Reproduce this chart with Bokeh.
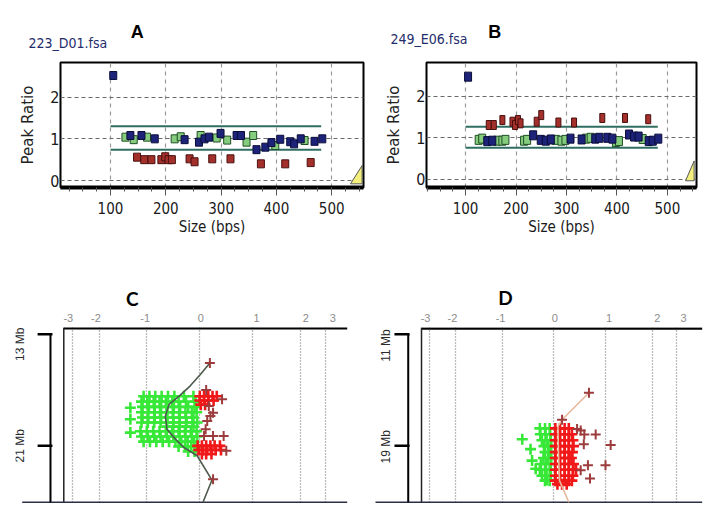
import math
from bokeh.plotting import figure
from bokeh.layouts import column, row
from bokeh.models import Range1d, FixedTicker, SingleIntervalTicker
from bokeh.core.properties import value
from bokeh.embed import file_html
from bokeh.resources import INLINE

# ---------------- Panel A (223_D01.fsa) ----------------
A_GREEN_X = [127, 142, 166, 216, 227, 263, 292, 311, 335, 346, 358, 398, 451]
A_GREEN_Y = [1.04, 0.98, 1.04, 1.00, 1.05, 1.08, 1.02, 0.97, 1.08, 0.92, 1.08, 0.84, 0.96]
A_BLUE_X = [105, 136, 156, 180, 234, 260, 270, 278, 299, 328, 336, 364, 380, 391, 407, 425, 432, 444, 469, 483]
A_BLUE_Y = [2.52, 1.08, 1.08, 1.00, 0.98, 0.92, 1.00, 1.04, 1.13, 1.08, 1.08, 0.74, 0.80, 0.91, 0.99, 0.93, 0.88, 1.00, 0.94, 1.00]
A_RED_X = [148, 161, 174, 192, 199, 205, 211, 243, 252, 284, 317, 372, 416, 462]
A_RED_Y = [0.56, 0.50, 0.50, 0.50, 0.57, 0.50, 0.50, 0.52, 0.45, 0.52, 0.52, 0.40, 0.40, 0.43]
A_BAND = [0.74, 1.30]
A_TRI_X = [534, 555, 555]
A_TRI_Y = [-0.08, 0.36, -0.08]

# ---------------- Panel B (249_E06.fsa) ----------------
B_GREEN_X = [126, 133, 163, 173, 179, 216, 222, 279, 290, 298, 339, 348, 398, 404, 451]
B_GREEN_Y = [0.95, 0.98, 0.93, 0.93, 0.95, 0.93, 0.95, 0.95, 0.93, 0.95, 0.98, 1.00, 0.90, 0.92, 0.97]
B_BLUE_X = [105, 143, 153, 234, 249, 259, 269, 308, 330, 357, 365, 381, 391, 424, 434, 443, 463, 471, 482]
B_BLUE_Y = [2.48, 0.92, 0.93, 1.06, 0.95, 0.93, 0.96, 0.98, 0.96, 0.98, 1.00, 1.00, 0.98, 1.08, 1.03, 1.03, 0.92, 0.93, 0.98]
B_RED_X = [146, 156, 173, 193, 198, 204, 209, 241, 250, 284, 315, 371, 416, 462]
B_RED_Y = [1.31, 1.31, 1.43, 1.39, 1.31, 1.43, 1.35, 1.39, 1.55, 1.37, 1.37, 1.48, 1.48, 1.45]
B_BAND = [0.76, 1.27]
B_TRI_X = [536, 553, 553]
B_TRI_Y = [-0.04, 0.44, -0.04]

BAND_X = [100, 481]
RATIO_TICKS = [0, 1, 2]

# ---------------- Panel titles (page pixel positions) ----------------
TOP_TEXT = ["223_D01.fsa", "249_E06.fsa"]
TOP_TEXT_X = [28, 390]
TOP_TEXT_Y = [42.7, 38.3]
TOP_LETTERS = ["A", "B"]
TOP_LETTER_X = [136.7, 494.3]
TOP_LETTER_Y = [31.7, 31.7]
BOTTOM_LETTERS = ["C", "D"]
BOTTOM_LETTER_X = [131.7, 505.0]
BOTTOM_LETTER_Y = [297.5, 296.5]

# ---------------- Panels C / D (log ratio vs genome position) ----------------
RATIO_LABELS = ["-3", "-2", "-1", "0", "1", "2", "3"]
RATIO_LABEL_POS = [-2.48, -1.96, -1.03, 0.02, 1.07, 2.0, 2.51]
RATIO_GRID_POS = [-2.4, -1.9, -1.0, 0.0, 1.0, 1.9, 2.38]

C_MB_TICKS = [13, 21]
C_MB_LABELS = ["13 Mb", "21 Mb"]
D_MB_TICKS = [11, 19]
D_MB_LABELS = ["11 Mb", "19 Mb"]

C_GREEN_ROWS = [
    (17.45, [-1.06, -0.95, -0.84, -0.72, -0.60, -0.48, -0.30, -0.12]),
    (17.83, [-1.10, -0.99, -0.87, -0.76, -0.64, -0.52, -0.40, -0.26, -0.08]),
    (18.21, [-1.08, -0.96, -0.85, -0.73, -0.61, -0.49, -0.37, -0.22, -0.10]),
    (18.59, [-1.10, -0.98, -0.86, -0.75, -0.63, -0.51, -0.39, -0.27, -0.15, -0.06]),
    (18.97, [-1.08, -0.97, -0.85, -0.73, -0.61, -0.50, -0.38, -0.26, -0.12]),
    (19.33, [-1.10, -0.98, -0.86, -0.74, -0.62, -0.50, -0.38, -0.25, -0.14, -0.05]),
    (19.62, [-0.62, -0.50, -0.38, -0.26, -0.12]),
    (19.95, [-1.12, -1.00, -0.88, -0.76, -0.64, -0.52, -0.40, -0.28, -0.17, -0.06]),
    (20.33, [-1.10, -0.98, -0.86, -0.74, -0.62, -0.50, -0.38, -0.27, -0.15, -0.05]),
    (20.70, [-1.06, -0.94, -0.82, -0.70, -0.58, -0.46, -0.35, -0.23, -0.11]),
    (21.05, [-0.40, -0.28, -0.16, -0.06]),
    (21.40, [-0.22, -0.10]),
]
C_GREEN_OUT_X = [-1.31, -1.31, -1.31]
C_GREEN_OUT_Y = [18.27, 19.10, 20.05]
C_RED_ROWS = [
    (17.45, [0.00, 0.08, 0.16, 0.24, 0.32]),
    (17.75, [0.00, 0.08, 0.16, 0.26]),
    (18.05, [0.02, 0.10]),
    (21.00, [-0.04, 0.04, 0.12, 0.20, 0.28, 0.38]),
    (21.30, [-0.02, 0.06, 0.14, 0.22, 0.30, 0.40]),
    (21.58, [0.04, 0.12, 0.22]),
]
C_DARK_X = [0.19, 0.12, 0.42, 0.17, 0.25, 0.20, 0.14, 0.11, 0.08, 0.25, 0.45, 0.50, 0.25]
C_DARK_Y = [15.07, 17.00, 17.67, 18.15, 18.63, 18.86, 19.22, 19.81, 20.29, 20.29, 20.29, 21.35, 23.40]
C_LINE_X = [0.19, 0.01, -0.18, -0.39, -0.58, -0.65, -0.62, -0.46, -0.30, -0.05, 0.23, 0.06]
C_LINE_Y = [15.07, 15.89, 16.70, 17.44, 18.03, 18.86, 19.81, 20.52, 21.12, 21.71, 23.45, 25.04]

D_GREEN_ROWS = [
    (17.75, [-0.27, -0.17, -0.08]),
    (18.17, [-0.26, -0.16, -0.07]),
    (18.60, [-0.23, -0.14, -0.06]),
    (19.02, [-0.19, -0.11, -0.05]),
    (19.45, [-0.17, -0.09]),
    (19.87, [-0.20, -0.11, -0.05]),
    (20.30, [-0.25, -0.15, -0.06]),
    (20.72, [-0.27, -0.17, -0.08]),
    (21.15, [-0.23, -0.14, -0.06]),
    (21.50, [-0.17, -0.08]),
]
D_GREEN_OUT_X = [-0.61, -0.45, -0.42, -0.35, -0.13]
D_GREEN_OUT_Y = [18.53, 19.24, 20.06, 20.65, 21.46]
D_RED_ROWS = [
    (17.75, [0.03, 0.12, 0.21, 0.29]),
    (18.17, [0.03, 0.12, 0.21, 0.29, 0.35]),
    (18.60, [0.03, 0.12, 0.21, 0.29, 0.37]),
    (19.02, [0.03, 0.12, 0.21, 0.29, 0.38]),
    (19.45, [0.03, 0.12, 0.21, 0.29, 0.36]),
    (19.87, [0.03, 0.12, 0.21, 0.29, 0.34]),
    (20.30, [0.03, 0.12, 0.21, 0.29, 0.38]),
    (20.72, [0.03, 0.12, 0.21, 0.29, 0.37, 0.43]),
    (21.15, [0.03, 0.12, 0.21, 0.29, 0.37]),
    (21.50, [0.03, 0.12, 0.21, 0.29, 0.35]),
    (21.75, [0.07, 0.16, 0.25]),
]
D_DARK_X = [0.68, 0.16, 0.52, 0.81, 0.59, 1.10, 0.58, 1.00, 0.66, 0.70, 0.52, 0.45]
D_DARK_Y = [15.19, 17.13, 17.90, 18.18, 18.18, 18.95, 18.88, 20.40, 20.40, 21.34, 20.75, 17.80]
D_LINE_X = [0.68, 0.16, 0.08, 0.09, 0.11, 0.29]
D_LINE_Y = [15.19, 17.13, 17.60, 19.50, 21.50, 23.05]

NARROW = "DejaVu Sans Condensed, Roboto"
ARIAL = "Liberation Sans"


def flatten(rows):
    xs, ys = [], []
    for mb, row_xs in rows:
        for xv in row_xs:
            xs.append(xv)
            ys.append(mb)
    return xs, ys


def strip(width, height, y_top, letters, lx, ly, texts=None, tx=None, ty=None, letter_font=ARIAL,
          letter_size="18px"):
    p = figure(width=width, height=height, x_range=Range1d(0, width),
               y_range=Range1d(y_top + height, y_top),
               output_backend="svg", toolbar_location=None,
               x_axis_location=None, y_axis_location=None, min_border=0,
               background_fill_color="white", border_fill_color="white")
    p.outline_line_color = None
    p.xgrid.visible = False
    p.ygrid.visible = False
    if texts:
        p.text(x=tx, y=ty, text=texts, text_font=value(NARROW), text_font_size=value("14px"),
               text_color="#1f2d6b", text_align="left", text_baseline="middle")
    p.text(x=lx, y=ly, text=letters, text_font=value(letter_font), text_font_size=value(letter_size),
           text_font_style="bold", text_color="black", text_align="center", text_baseline="middle")
    return p


def peak_panel(width, bl, br, xr, yr, green, blue, red, band, tri, red_size, gb_size):
    p = figure(width=width, height=204, x_range=Range1d(*xr), y_range=Range1d(*yr),
               output_backend="svg", toolbar_location=None,
               min_border_left=bl, min_border_right=br, min_border_top=6, min_border_bottom=73,
               background_fill_color="white", border_fill_color="white")
    p.outline_line_color = "black"
    p.outline_line_width = 2
    p.xaxis.ticker = SingleIntervalTicker(interval=100, num_minor_ticks=4)
    p.yaxis.ticker = FixedTicker(ticks=RATIO_TICKS)
    p.xgrid.grid_line_color = "#9a9a9a"
    p.xgrid.grid_line_dash = "4 4"
    p.xgrid.grid_line_width = 1.2
    p.ygrid.grid_line_color = "#6a6a6a"
    p.ygrid.grid_line_dash = "4 3"
    p.ygrid.grid_line_width = 1.2
    ax = p.xaxis[0]
    ax.axis_line_width = 4
    ax.axis_line_color = "black"
    ax.major_tick_out = 8
    ax.major_tick_in = 0
    ax.minor_tick_out = 4
    ax.minor_tick_in = 0
    ax.major_tick_line_color = "#555555"
    ax.minor_tick_line_color = "#555555"
    ax.major_label_standoff = 6
    ax.major_label_text_font = NARROW
    ax.major_label_text_font_size = "15px"
    ax.major_label_text_color = "#1a1a1a"
    ax.axis_label = "Size (bps)"
    ax.axis_label_text_font = NARROW
    ax.axis_label_text_font_size = "15px"
    ax.axis_label_text_font_style = "normal"
    ax.axis_label_text_color = "#1a1a1a"
    ax.axis_label_standoff = 1
    ay = p.yaxis[0]
    ay.axis_line_color = None
    ay.major_tick_out = 0
    ay.major_tick_in = 0
    ay.minor_tick_line_color = None
    ay.major_label_standoff = 1
    ay.major_label_text_font = NARROW
    ay.major_label_text_font_size = "16px"
    ay.major_label_text_color = "#1a1a1a"
    ay.axis_label = "Peak Ratio"
    ay.axis_label_text_font = "DejaVu Sans"
    ay.axis_label_text_font_size = "15px"
    ay.axis_label_text_font_style = "normal"
    ay.axis_label_text_color = "#222222"
    ay.axis_label_standoff = 10

    for yv in band:
        p.line(x=BAND_X, y=[yv, yv], line_color="#2e6e62", line_width=2)

    p.rect(x=red[0], y=red[1], width=red_size[0], height=red_size[1],
           width_units="screen", height_units="screen",
           fill_color="#a3302b", line_color="#4a1010", line_width=1)
    p.rect(x=green[0], y=green[1], width=gb_size[0], height=gb_size[1],
           width_units="screen", height_units="screen",
           fill_color="#86cc7e", line_color="#1f4f24", line_width=1)
    p.rect(x=blue[0], y=blue[1], width=gb_size[0], height=gb_size[1],
           width_units="screen", height_units="screen",
           fill_color="#1d2379", line_color="#0a0d3a", line_width=1)

    p.patch(x=tri[0], y=tri[1], fill_color="#f4ef7c", line_color="#555555", line_width=1)
    return p


def genome_panel(width, height, bl, br, bt, bb, xr, yr, green_rows, green_out, red_rows,
                 dark, line, line_color, frame, chrom, mb_ticks, mb_labels, mb_label_pos):
    p = figure(width=width, height=height, x_range=Range1d(*xr), y_range=Range1d(*yr),
               output_backend="svg", toolbar_location=None,
               x_axis_location="above", y_axis_location=None,
               min_border_left=bl, min_border_right=br, min_border_top=bt, min_border_bottom=bb,
               background_fill_color="white", border_fill_color="white")
    p.outline_line_color = None
    ax = p.xaxis[0]
    ax.ticker = FixedTicker(ticks=RATIO_LABEL_POS)
    ax.major_label_overrides = {pos: lab for pos, lab in zip(RATIO_LABEL_POS, RATIO_LABELS)}
    ax.axis_line_color = None
    ax.major_tick_line_color = None
    ax.minor_tick_line_color = None
    ax.major_label_standoff = 0
    ax.major_label_text_font = ARIAL
    ax.major_label_text_font_size = "11px"
    ax.major_label_text_color = "#8c8c8c"
    p.xgrid.ticker = FixedTicker(ticks=RATIO_GRID_POS)
    p.xgrid.grid_line_color = "#7a7a7a"
    p.xgrid.grid_line_dash = "1 2"
    p.xgrid.grid_line_width = 1.3
    p.ygrid.visible = False

    # frame lines: top, left, bottom
    x_left, x_right, y_top, y_bottom, x_bottom_start = frame
    p.line(x=[x_left, x_right], y=[y_top, y_top], line_color="black", line_width=2.5)
    p.line(x=[x_left, x_left], y=[yr[1], y_bottom], line_color="#222222", line_width=1.5)
    p.line(x=[x_bottom_start, x_right], y=[y_bottom, y_bottom], line_color="#2b2f45", line_width=1.5)
    # chromosome bar with Mb ticks
    cx, tick_x0, tick_x1 = chrom
    p.line(x=[cx, cx], y=[mb_ticks[0], y_bottom], line_color="black", line_width=2)
    for t in mb_ticks:
        p.line(x=[tick_x0, tick_x1], y=[t, t], line_color="black", line_width=2.5)
    p.text(x=[pos[0] for pos in mb_label_pos], y=[pos[1] for pos in mb_label_pos], text=mb_labels,
           angle=math.pi / 2, text_font=value(ARIAL), text_font_size=value("12px"),
           text_color="#2a2a2a", text_align="center", text_baseline="middle")

    gx, gy = flatten(green_rows)
    gx = gx + green_out[0]
    gy = gy + green_out[1]
    rx, ry = flatten(red_rows)
    p.scatter(x=gx, y=gy, marker="cross", size=11, line_color="#38e838", line_width=2.6)
    p.scatter(x=rx, y=ry, marker="cross", size=11, line_color="#f01818", line_width=2.6)
    p.line(x=line[0], y=line[1], line_color=line_color, line_width=1.6)
    p.scatter(x=dark[0], y=dark[1], marker="cross", size=10, line_color="#9c3c3c", line_width=2)
    return p


top_strip = strip(707, 56, 0, TOP_LETTERS, TOP_LETTER_X, TOP_LETTER_Y,
                  TOP_TEXT, TOP_TEXT_X, TOP_TEXT_Y)
pA = peak_panel(375, 60, 12, (9.6, 557.5), (-0.168, 2.832),
                (A_GREEN_X, A_GREEN_Y), (A_BLUE_X, A_BLUE_Y), (A_RED_X, A_RED_Y),
                A_BAND, (A_TRI_X, A_TRI_Y), (7, 8), (7, 8))
pB = peak_panel(332, 51, 11, (22.6, 557.7), (-0.203, 2.823),
                (B_GREEN_X, B_GREEN_Y), (B_BLUE_X, B_BLUE_Y), (B_RED_X, B_RED_Y),
                B_BAND, (B_TRI_X, B_TRI_Y), (5, 9), (7, 9))
bottom_strip = strip(707, 50, 260, BOTTOM_LETTERS, BOTTOM_LETTER_X, BOTTOM_LETTER_Y,
                     letter_font="Lato", letter_size="19px")
pC = genome_panel(370, 197, 15, 20, 16, 4, (-3.477, 2.843), (25.13, 12.523),
                  C_GREEN_ROWS, (C_GREEN_OUT_X, C_GREEN_OUT_Y), C_RED_ROWS,
                  (C_DARK_X, C_DARK_Y), (C_LINE_X, C_LINE_Y), "#4b5a4b",
                  (-2.566, 2.781, 12.573, 25.04, -3.35), (-2.817, -3.06, -2.78),
                  C_MB_TICKS, C_MB_LABELS, [(-3.383, 13.73), (-3.383, 21.0)])
pD = genome_panel(337, 197, 2, 3, 14, 3, (-3.507, 2.915), (23.14, 10.509),
                  D_GREEN_ROWS, (D_GREEN_OUT_X, D_GREEN_OUT_Y), D_RED_ROWS,
                  (D_DARK_X, D_DARK_Y), (D_LINE_X, D_LINE_Y), "#e8b89a",
                  (-2.559, 2.870, 10.579, 23.05, -3.449), (-2.816, -3.082, -2.79),
                  D_MB_TICKS, D_MB_LABELS, [(-3.255, 11.81), (-3.255, 19.07)])

layout = column(top_strip, row(pA, pB), bottom_strip, row(pC, pD))
open("out.html", "w").write(file_html(layout, INLINE))
